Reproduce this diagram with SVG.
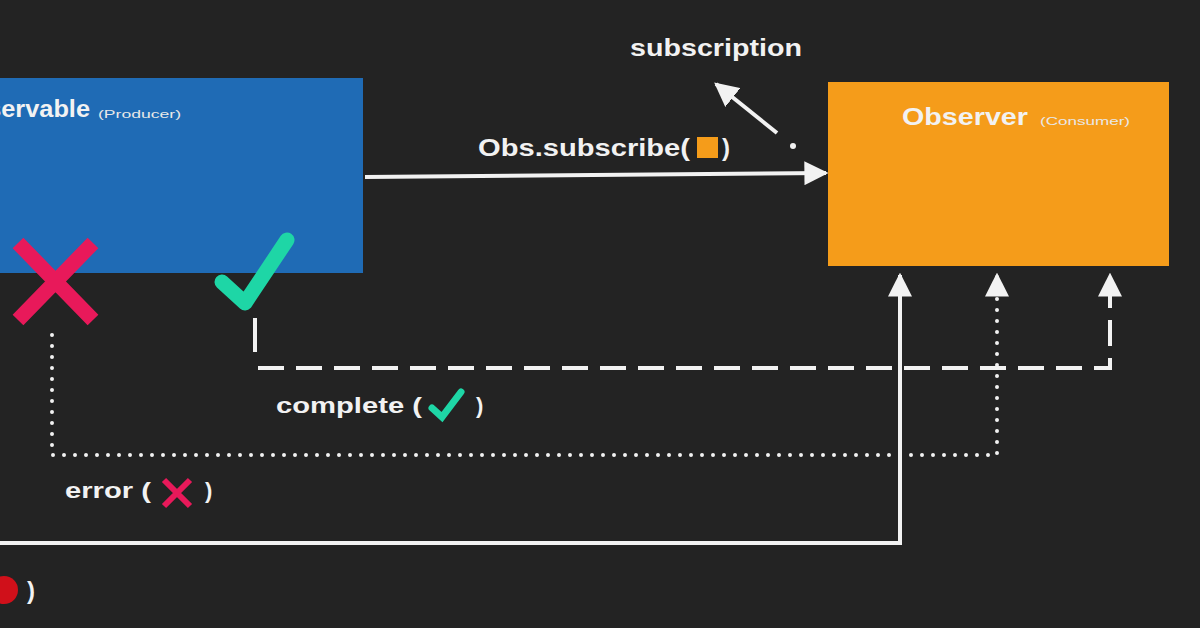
<svg xmlns="http://www.w3.org/2000/svg" width="1200" height="628" viewBox="0 0 1200 628">
<style>
.t{font-family:"Liberation Sans",Arial,sans-serif;font-weight:bold;fill:#f2f2f2}
.s{font-family:"Liberation Sans",Arial,sans-serif;fill:#e8e8e8}
.w{stroke:#f2f2f2;fill:none;stroke-width:4}
</style>
<defs>
<marker id="ah" viewBox="0 0 10 10" refX="9" refY="5" markerWidth="6" markerHeight="6" orient="auto"><path d="M0,0 L10,5 L0,10 Z" fill="#f2f2f2"/></marker>
</defs>
<rect width="1200" height="628" fill="#232323"/>
<g id="observable">
<rect x="-10" y="78" width="373" height="195" fill="#1f6bb5"/>
<text class="t" x="-48" y="117" font-size="24" textLength="138" lengthAdjust="spacingAndGlyphs">Observable</text>
<text class="s" x="98" y="118" font-size="11" textLength="83" lengthAdjust="spacingAndGlyphs">(Producer)</text>
</g>
<g id="observer">
<rect x="828" y="82" width="341" height="184" fill="#f59c1a"/>
<text class="t" x="902" y="125" font-size="24" fill="#fbe6c0" textLength="126" lengthAdjust="spacingAndGlyphs">Observer</text>
<text class="s" x="1040" y="125" font-size="11" fill="#fbe6c0" textLength="90" lengthAdjust="spacingAndGlyphs">(Consumer)</text>
</g>
<g id="icons">
<path d="M18,243 L93,320 M93,243 L18,320" stroke="#e8195a" stroke-width="15" fill="none"/>
<path d="M222,282 L245,303 L287,240" stroke="#1ed6a6" stroke-width="15" fill="none" stroke-linecap="round" stroke-linejoin="round"/>
</g>
<g id="connectors">
<line class="w" x1="365" y1="177" x2="826" y2="173" marker-end="url(#ah)"/>
<line class="w" x1="777" y1="133" x2="716" y2="84" marker-end="url(#ah)"/>
<circle cx="793" cy="146" r="3" fill="#f2f2f2"/>
<path class="w" d="M255,318 V352"/>
<path class="w" d="M258,368 H1110 V275" stroke-dasharray="26 12" marker-end="url(#ah)"/>
<path class="w" d="M52,335 V455 H997 V275" stroke-dasharray="0 11" stroke-linecap="round" marker-end="url(#ah)"/>
<path class="w" d="M0,543 H900 V275" marker-end="url(#ah)"/>
</g>
<g id="labels">
<text class="t" x="478" y="156" font-size="24" textLength="212" lengthAdjust="spacingAndGlyphs">Obs.subscribe(</text>
<rect x="697" y="137" width="21" height="21" fill="#f59c1a"/>
<text class="t" x="722" y="156" font-size="24">)</text>
<text class="t" x="630" y="56" font-size="24" textLength="172" lengthAdjust="spacingAndGlyphs">subscription</text>
<text class="t" x="276" y="413" font-size="22" textLength="146" lengthAdjust="spacingAndGlyphs">complete (</text>
<path d="M432,408 L442,417 L461,392" stroke="#1ed6a6" stroke-width="7" fill="none" stroke-linecap="round"/>
<text class="t" x="476" y="413" font-size="22">)</text>
<text class="t" x="65" y="498" font-size="22" textLength="86" lengthAdjust="spacingAndGlyphs">error (</text>
<path d="M164,480 L190,506 M190,480 L164,506" stroke="#e8195a" stroke-width="6"/>
<text class="t" x="205" y="498" font-size="22">)</text>
<circle cx="4" cy="590" r="14" fill="#d0101a"/>
<text class="t" x="27" y="599" font-size="24">)</text>
</g>
</svg>
